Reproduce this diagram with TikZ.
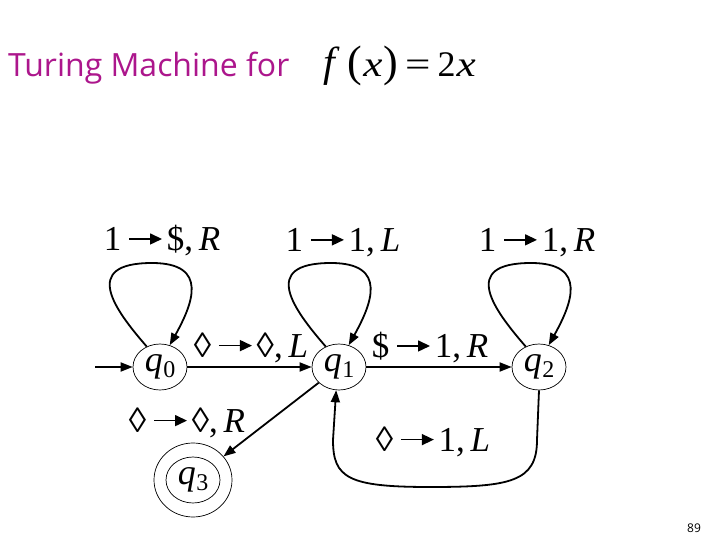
\documentclass[tikz,border=0pt]{standalone}
\usepackage{fontspec}
\usepackage{graphicx}
\setmainfont{Liberation Serif}
\newfontfamily\titlefont{Open Sans}
\usetikzlibrary{arrows.meta,shapes.geometric,calc}
\definecolor{titlemag}{RGB}{172,22,140}
\newcommand\tmloop[1]{\draw[edge] (#1.123) .. controls ($(#1)+(-45,-57)$) and ($(#1)+(-80,-104)$) .. ($(#1)+(-8,-104)$) .. controls ($(#1)+(50,-104)$) and ($(#1)+(32,-62)$) .. (#1.66);}
\newcommand\qlab[1]{{\fontsize{36}{36}\selectfont\textit{q}}\kern0.5pt{\fontsize{24}{24}\selectfont\raisebox{-6pt}{#1}}}
\newcommand\tmarr{\kern7pt\tikz[baseline={(0pt,-12pt)}]\draw[line width=1.5pt,-{Triangle[length=12pt,width=11pt]}] (0pt,0pt) -- (33pt,0pt);\kern4pt}
\newcommand\wx{\scalebox{1.2}[1]{\textit{x}}}
\tikzset{
  state/.style={draw, ellipse, line width=0.7pt, minimum width=54pt, minimum height=46pt, inner sep=0pt},
  edge/.style={line width=1.8pt, -{Triangle[length=12pt,width=9pt]}},
  lab/.style={font=\fontsize{35}{35}\selectfont, inner sep=0pt}
}
\begin{document}
\begin{tikzpicture}[x=1pt,y=-1pt]
\fill[white] (0,0) rectangle (720,540);
\useasboundingbox (0,0) rectangle (720,540);
% title
\node[anchor=base west, inner sep=0pt, text=titlemag, font=\titlefont\fontsize{32}{32}\selectfont] (title) at (8,77) {Turing Machine for};
\node[anchor=base west, inner sep=0pt, font=\fontsize{36}{36}\selectfont] (fx) at (323,77) {{\fontsize{42}{42}\selectfont\textit{f}}\kern8pt{\fontsize{44}{44}\selectfont(}\kern1pt\wx\kern1pt{\fontsize{44}{44}\selectfont)}\kern7pt\scalebox{1.25}[1]{=}\kern7pt2\kern1pt\wx};
% states
\node[state] (q0) at (160,367) {\qlab{0}};
\node[state] (q1) at (339,367) {\qlab{1}};
\node[state] (q2) at (539,367) {\qlab{2}};
\node[state] (q3) at (193,480) {\qlab{3}};
\node[draw, ellipse, line width=0.7pt, minimum width=78pt, minimum height=74pt, inner sep=0pt] (q3o) at (193,480) {};
\coordinate (init) at (95,367);
% labels
\node[lab] (l00) at (162,241) {1\tmarr\$,\,\textit{R}};
\node[lab] (l11) at (343,243) {1\tmarr 1,\,\textit{L}};
\node[lab] (l22) at (537,243) {1\tmarr 1,\,\textit{R}};
\node[lab] (l01) at (251,348) {◊\tmarr◊,\,\textit{L}};
\node[lab] (l12) at (430,348) {\$\tmarr 1,\,\textit{R}};
\node[lab] (l13) at (187,423) {◊\tmarr◊,\,\textit{R}};
\node[lab] (l21) at (433,442) {◊\tmarr 1,\,\textit{L}};
\node[font=\titlefont\fontsize{12}{12}\selectfont, inner sep=0pt] (page) at (694,528) {89};
% edges
\draw[edge] (init) -- (q0);
\draw[edge] (q0) -- (q1);
\draw[edge] (q1) -- (q2);
\draw[edge] (q1) -- (q3o);
\draw[edge] (q2.south) -- (537,440) .. controls (537,482) and (510,487) .. (430,487) .. controls (348,487) and (333,478) .. (333,440) -- (q1.263);
\tmloop{q0}
\tmloop{q1}
\tmloop{q2}
\end{tikzpicture}
\end{document}
